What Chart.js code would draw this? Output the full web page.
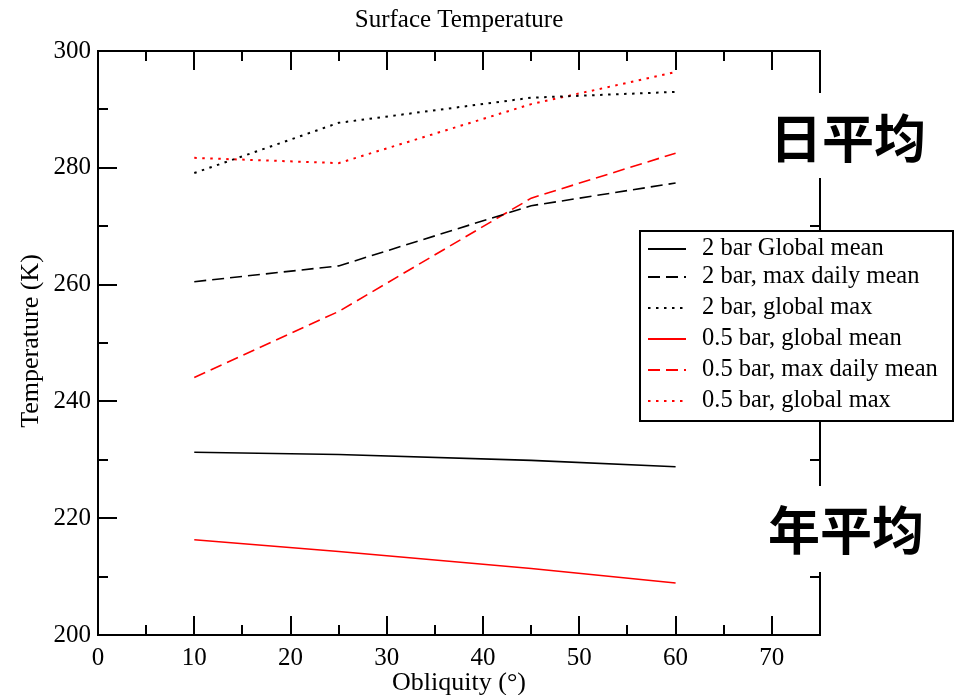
<!DOCTYPE html>
<html>
<head>
    <script src="https://cdn.jsdelivr.net/npm/chart.js@4.4.0/dist/chart.umd.min.js"></script>
    <style>
        body { margin: 0; background: #fff; }
    </style>
</head>
<body>

    <canvas id="surfaceTempChart" width="954" height="695"></canvas>

    <script>
        // obliquity (degrees) of each model run
        const obliquity = [10, 25, 45, 60];

        // surface temperatures in K
        const globalMean2 = [231.3, 230.9, 229.9, 228.8];
        const maxDailyMean2 = [260.5, 263.2, 273.5, 277.4];
        const globalMax2 = [279.1, 287.7, 292.0, 293.0];
        const globalMean05 = [216.3, 214.3, 211.4, 208.9];
        const maxDailyMean05 = [244.1, 255.4, 274.8, 282.5];
        const globalMax05 = [281.7, 280.8, 290.9, 296.4];

        const seriesLabels = [
            '2 bar Global mean',
            '2 bar, max daily mean',
            '2 bar, global max',
            '0.5 bar, global mean',
            '0.5 bar, max daily mean',
            '0.5 bar, global max'
        ];

        const serif = '"Liberation Serif", "Times New Roman", serif';
        const cjk = '"Noto Sans CJK SC", "Noto Sans CJK JP", sans-serif';

        const solid = [];
        const dashed = [12, 6];
        const dotted = [2.5, 5.5];

        function toPoints(values) {
            return values.map((v, i) => ({ x: obliquity[i], y: v }));
        }

        function series(label, values, color, dash) {
            return {
                label: label,
                data: toPoints(values),
                borderColor: color,
                borderWidth: dash === dotted ? 2 : 1.6,
                borderDash: dash,
                pointRadius: 0,
                tension: 0,
                fill: false
            };
        }

        // frame with inward ticks on all four sides, plus title and axis titles
        const frameTicks = {
            id: 'frameTicks',
            beforeDatasetsDraw(chart) {
                const { ctx, chartArea: a, scales: { x, y } } = chart;
                ctx.save();
                ctx.strokeStyle = '#000';
                ctx.lineWidth = 2;
                ctx.strokeRect(a.left, a.top, a.right - a.left, a.bottom - a.top);

                ctx.beginPath();
                for (let v = 5; v < 75; v += 5) {
                    const px = Math.round(x.getPixelForValue(v));
                    const len = v % 10 === 0 ? 19 : 10;
                    ctx.moveTo(px, a.bottom);
                    ctx.lineTo(px, a.bottom - len);
                    ctx.moveTo(px, a.top);
                    ctx.lineTo(px, a.top + len);
                }
                for (let v = 210; v < 300; v += 10) {
                    const py = Math.round(y.getPixelForValue(v));
                    const len = v % 20 === 0 ? 19 : 10;
                    ctx.moveTo(a.left, py);
                    ctx.lineTo(a.left + len, py);
                    ctx.moveTo(a.right, py);
                    ctx.lineTo(a.right - len, py);
                }
                ctx.stroke();

                ctx.fillStyle = '#000';
                ctx.textAlign = 'center';
                ctx.textBaseline = 'middle';
                ctx.font = '25px ' + serif;
                ctx.fillText('Surface Temperature', (a.left + a.right) / 2, 20);
                ctx.font = '26px ' + serif;
                ctx.fillText('Obliquity (°)', (a.left + a.right) / 2, 683);

                ctx.translate(31, (a.top + a.bottom) / 2 - 2);
                ctx.rotate(-Math.PI / 2);
                ctx.fillText('Temperature (K)', 0, 0);
                ctx.restore();
            },
            afterDraw(chart) {
                const { ctx } = chart;
                ctx.save();

                // legend box
                const box = { left: 640, top: 231, right: 953, bottom: 421 };
                const rowY = [249, 277, 308, 339, 370, 401];
                ctx.fillStyle = '#fff';
                ctx.fillRect(box.left, box.top, box.right - box.left, box.bottom - box.top);
                ctx.strokeStyle = '#000';
                ctx.lineWidth = 2;
                ctx.strokeRect(box.left, box.top, box.right - box.left, box.bottom - box.top);

                ctx.font = '24.5px ' + serif;
                ctx.textAlign = 'left';
                ctx.textBaseline = 'middle';
                chart.data.datasets.forEach((ds, i) => {
                    ctx.beginPath();
                    ctx.strokeStyle = ds.borderColor;
                    ctx.lineWidth = 1.8;
                    ctx.setLineDash(ds.borderDash);
                    ctx.moveTo(648, rowY[i]);
                    ctx.lineTo(686, rowY[i]);
                    ctx.stroke();
                    ctx.setLineDash([]);
                    ctx.fillStyle = '#000';
                    ctx.fillText(ds.label, 702, rowY[i]);
                });

                // daily / annual mean captions
                ctx.fillStyle = '#fff';
                ctx.fillRect(760, 93, 194, 85);
                ctx.fillRect(760, 486, 194, 86);
                ctx.fillStyle = '#000';
                ctx.font = 'bold 52px ' + cjk;
                ctx.textAlign = 'center';
                ctx.fillText('日平均', 848, 138);
                ctx.fillText('年平均', 846, 530);
                ctx.restore();
            }
        };

        const ctx = document.getElementById('surfaceTempChart').getContext('2d');

        new Chart(ctx, {
            type: 'line',
            data: {
                datasets: [
                    series(seriesLabels[0], globalMean2, '#000', solid),
                    series(seriesLabels[1], maxDailyMean2, '#000', dashed),
                    series(seriesLabels[2], globalMax2, '#000', dotted),
                    series(seriesLabels[3], globalMean05, '#ff0000', solid),
                    series(seriesLabels[4], maxDailyMean05, '#ff0000', dashed),
                    series(seriesLabels[5], globalMax05, '#ff0000', dotted)
                ]
            },
            options: {
                responsive: false,
                animation: false,
                layout: {
                    padding: { top: 51, right: 134, bottom: 0, left: 0 }
                },
                plugins: {
                    legend: { display: false },
                    title: { display: false },
                    tooltip: { enabled: false }
                },
                scales: {
                    x: {
                        type: 'linear',
                        min: 0,
                        max: 75,
                        grid: { display: false, drawTicks: false },
                        border: { display: false },
                        afterBuildTicks: scale => {
                            scale.ticks = scale.ticks.filter(t => t.value % 10 === 0);
                        },
                        afterFit: scale => { scale.height = 60; },
                        ticks: {
                            stepSize: 10,
                            padding: 8,
                            maxRotation: 0,
                            color: '#000',
                            font: { family: serif, size: 25 }
                        }
                    },
                    y: {
                        min: 200,
                        max: 300,
                        grid: { display: false, drawTicks: false },
                        border: { display: false },
                        afterFit: scale => { scale.width = 98; },
                        ticks: {
                            stepSize: 20,
                            padding: 7,
                            color: '#000',
                            font: { family: serif, size: 25 }
                        }
                    }
                }
            },
            plugins: [frameTicks]
        });
    </script>
</body>
</html>
